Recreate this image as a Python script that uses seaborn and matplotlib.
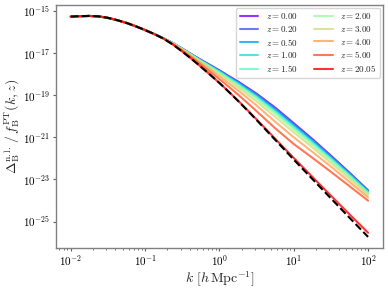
import matplotlib
matplotlib.use("Agg")
import matplotlib.pyplot as plt
import numpy as np
import pandas as pd
import seaborn as sns

# wavenumber grid, log10(k / h Mpc^-1)
log_k = [-2.0, -1.875, -1.75, -1.625, -1.5, -1.375, -1.25, -1.125, -1.0, -0.875,
         -0.75, -0.625, -0.5, -0.375, -0.25, -0.125, 0.0, 0.125, 0.25, 0.375,
         0.5, 0.75, 1.0, 1.25, 1.5, 1.75, 2.0]

# low-k part where every curve coincides (log10 values)
low_k_part = [-15.27, -15.25, -15.24, -15.26, -15.33, -15.44, -15.57, -15.73, -15.91, -16.10]

# linear curve (black dashed)
linear_log = low_k_part + [-16.32, -16.60, -16.93, -17.28, -17.65, -18.03, -18.42, -18.84, -19.27,
                           -19.72, -20.18, -21.12, -22.06, -22.98, -23.90, -24.82, -25.73]

z_labels = ["0.00", "0.20", "0.50", "1.00", "1.50", "2.00", "3.00", "4.00", "5.00", "20.05"]

z000 = low_k_part + [-16.30, -16.53, -16.79, -17.06, -17.32, -17.57, -17.82, -18.09, -18.35,
                     -18.64, -18.93, -19.59, -20.33, -21.08, -21.87, -22.68, -23.52]
z020 = low_k_part + [-16.30, -16.53, -16.79, -17.07, -17.33, -17.58, -17.84, -18.11, -18.37,
                     -18.67, -18.96, -19.63, -20.37, -21.12, -21.90, -22.71, -23.54]
z050 = low_k_part + [-16.30, -16.53, -16.80, -17.07, -17.34, -17.60, -17.85, -18.13, -18.40,
                     -18.70, -19.00, -19.67, -20.41, -21.15, -21.93, -22.73, -23.56]
z100 = low_k_part + [-16.30, -16.54, -16.81, -17.08, -17.36, -17.62, -17.88, -18.17, -18.44,
                     -18.75, -19.05, -19.74, -20.48, -21.21, -21.99, -22.78, -23.59]
z150 = low_k_part + [-16.30, -16.54, -16.81, -17.09, -17.37, -17.64, -17.91, -18.20, -18.49,
                     -18.80, -19.11, -19.81, -20.55, -21.28, -22.04, -22.82, -23.63]
z200 = low_k_part + [-16.30, -16.55, -16.82, -17.11, -17.39, -17.67, -17.95, -18.24, -18.54,
                     -18.86, -19.18, -19.88, -20.63, -21.35, -22.10, -22.87, -23.67]
z300 = low_k_part + [-16.31, -16.55, -16.83, -17.13, -17.42, -17.72, -18.01, -18.32, -18.63,
                     -18.97, -19.30, -20.03, -20.77, -21.48, -22.22, -22.97, -23.74]
z400 = low_k_part + [-16.31, -16.56, -16.86, -17.17, -17.48, -17.79, -18.11, -18.44, -18.77,
                     -19.13, -19.49, -20.26, -21.00, -21.69, -22.39, -23.12, -23.85]
z500 = low_k_part + [-16.31, -16.58, -16.89, -17.21, -17.55, -17.89, -18.24, -18.60, -18.97,
                     -19.36, -19.76, -20.57, -21.32, -21.97, -22.64, -23.32, -24.01]
z2005 = low_k_part + [-16.32, -16.60, -16.93, -17.28, -17.65, -18.03, -18.42, -18.83, -19.26,
                      -19.70, -20.15, -21.07, -21.98, -22.88, -23.77, -24.66, -25.53]

series = [z000, z020, z050, z100, z150, z200, z300, z400, z500, z2005]

x_ticks = [1e-2, 1e-1, 1e0, 1e1, 1e2]
y_ticks = [1e-25, 1e-23, 1e-21, 1e-19, 1e-17, 1e-15]

sns.set_style("ticks")
plt.rcParams.update({
    "font.family": "serif",
    "font.serif": ["cmr10", "DejaVu Serif"],
    "mathtext.fontset": "cm",
    "axes.formatter.use_mathtext": True,
    "axes.edgecolor": "#808080",
    "axes.linewidth": 1.0,
    "xtick.color": "#606060",
    "ytick.color": "#606060",
    "xtick.labelcolor": "black",
    "ytick.labelcolor": "black",
    "xtick.labelsize": 8,
    "ytick.labelsize": 8,
    "xtick.major.size": 2.5,
    "ytick.major.size": 2.5,
    "xtick.minor.size": 1.5,
    "ytick.minor.size": 1.5,
    "xtick.major.pad": 1.5,
    "ytick.major.pad": 1.5,
})

k = 10.0 ** np.array(log_k)
rows = []
for lab, vals in zip(z_labels, series):
    for kk, v in zip(k, vals):
        rows.append({"k": kk, "P": 10.0 ** v, "z": f"$z = {lab}$"})
df = pd.DataFrame(rows)
df_lin = pd.DataFrame({"k": k, "P": 10.0 ** np.array(linear_log)})

colors = [plt.cm.rainbow(x) for x in np.linspace(0, 1, len(z_labels))]
palette = dict(zip(df["z"].unique(), colors))

fig, ax = plt.subplots(figsize=(3.88, 2.89), dpi=100)
fig.subplots_adjust(left=0.144, right=0.987, top=0.983, bottom=0.142)

sns.lineplot(data=df, x="k", y="P", hue="z", palette=palette, ax=ax,
             linewidth=1.5, alpha=0.8, sort=False)
sns.lineplot(data=df_lin, x="k", y="P", ax=ax, color="black",
             linestyle="--", linewidth=1.5)

ax.set_xscale("log")
ax.set_yscale("log")
ax.set_xticks(x_ticks)
ax.set_yticks(y_ticks)
ax.set_xlabel(r"$k\ [h\,\mathrm{Mpc}^{-1}]$", fontsize=10, labelpad=1)
ax.set_ylabel(r"$\Delta_{\mathrm{B}}^{\mathrm{n.l.}}\,/\,f_{\mathrm{B}}^{\mathrm{PT}}(k,z)$",
              fontsize=10, labelpad=1)

ax.legend(loc="upper right", ncol=2, fontsize=6.5, frameon=True,
          handlelength=2.1, columnspacing=1.8, labelspacing=0.3,
          borderpad=0.4, handletextpad=0.8, edgecolor="#cccccc",
          borderaxespad=0.3)

fig.savefig("out.png", dpi=100)
